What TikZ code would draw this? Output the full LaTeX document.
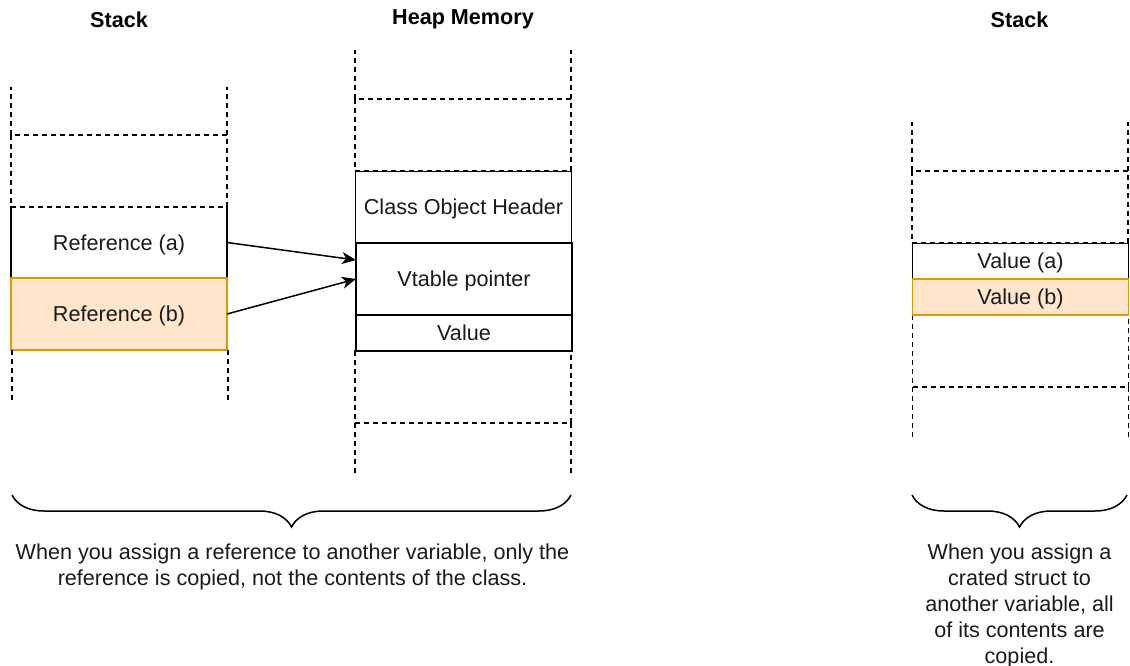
\documentclass[tikz,border=0pt]{standalone}
\usepackage{fontspec}
\setmainfont{Liberation Sans}
\usetikzlibrary{arrows.meta,decorations.pathreplacing,calc}

\definecolor{hotfill}{HTML}{FFE6CC}
\definecolor{hotline}{HTML}{D79B00}
\definecolor{ink}{HTML}{1A1A1A}

\begin{document}
\begin{tikzpicture}[
    x=1pt, y=-1pt,
    font=\fontsize{21.6}{25.9}\selectfont,
    guide/.style={draw=black, line width=1.5pt, dash pattern=on 5pt off 4pt},
    slot/.style={guide, fill=white, minimum width=216pt, minimum height=72pt, inner sep=0pt, outer sep=0pt},
    cell/.style={draw=black, fill=white, line width=1.5pt, minimum width=216pt, minimum height=72pt,
                 inner sep=0pt, outer sep=0pt, text=ink, text height=15pt, text depth=0pt},
    halfcell/.style={cell, minimum height=36pt},
    hot/.style={fill=hotfill, draw=hotline},
    title/.style={font=\fontsize{21.6}{25.9}\selectfont\bfseries, text=black},
    caption/.style={align=center, text=ink},
    ptr/.style={line width=1.5pt, -{Stealth[length=14pt,width=12pt,inset=4pt]}},
    curly/.style={line width=1.5pt, decorate,
                  decoration={brace, mirror, amplitude=32pt}}
  ]
  \useasboundingbox (0,0) rectangle (1130,666);

  % headings
  \node[title] (tstack)  at (119,19.5)    {Stack};
  \node[title] (theap)   at (463,19.5)    {Heap Memory};
  \node[title] (tstack2) at (1019.5,19.5) {Stack};

  % ---- stack of references ----
  \node[cell] (refa) at (119,242.5) {Reference (a)};
  \node[cell, hot] (refb) at (119,314) {Reference (b)};
  \node[slot] (ls1) at (119,171) {};
  \draw[guide] (ls1.north west) -- ++(0,-48);
  \draw[guide] (ls1.north east) -- ++(0,-48);
  \draw[guide] ([xshift=1pt]refb.south west) -- ++(0,53);
  \draw[guide] ([xshift=1pt]refb.south east) -- ++(0,53);

  % ---- heap ----
  \node[slot] (hs2) at (463,387) {};
  \node[cell] (hdr) at (463.5,207) {Class Object Header};
  \node[cell] (vt) at (464,279) {Vtable pointer};
  \node[halfcell] (hval) at (464,333) {Value};
  \node[slot] (hs1) at (463,135) {};
  \draw[guide] (hs1.north west) -- ++(0,-49);
  \draw[guide] (hs1.north east) -- ++(0,-49);
  \draw[guide] (hs2.south west) -- ++(0,52);
  \draw[guide] (hs2.south east) -- ++(0,52);

  % references pointing into the object
  \draw[ptr] (refa.east) -- ($(vt.west)+(0,-19)$);
  \draw[ptr] (refb.east) -- (vt.west);

  % ---- stack of values ----
  \node[slot] (rs2) at (1020.5,351) {};
  \node[halfcell] (vala) at (1020.5,261) {Value (a)};
  \node[halfcell, hot] (valb) at (1020.5,297) {Value (b)};
  \node[slot] (rs1) at (1020,207) {};
  \draw[guide] (rs1.north west) -- ++(0,-49);
  \draw[guide] (rs1.north east) -- ++(0,-49);
  \draw[guide] (rs2.south west) -- ++(0,53);
  \draw[guide] (rs2.south east) -- ++(0,53);

  % ---- braces and notes ----
  \coordinate (bl1) at (12,495);
  \coordinate (bl2) at (571,495);
  \coordinate (br1) at (912,495);
  \coordinate (br2) at (1127,495);
  \draw[curly] (bl1) -- (bl2);
  \draw[curly] (br1) -- (br2);

  \node[caption] (noteref) at (292.5,567)
    {When you assign a reference to another variable, only the\\
     reference is copied, not the contents of the class.};
  \node[caption] (noteval) at (1019.5,606)
    {When you assign a\\ crated struct to\\ another variable, all\\ of its contents are\\ copied.};
\end{tikzpicture}
\end{document}
